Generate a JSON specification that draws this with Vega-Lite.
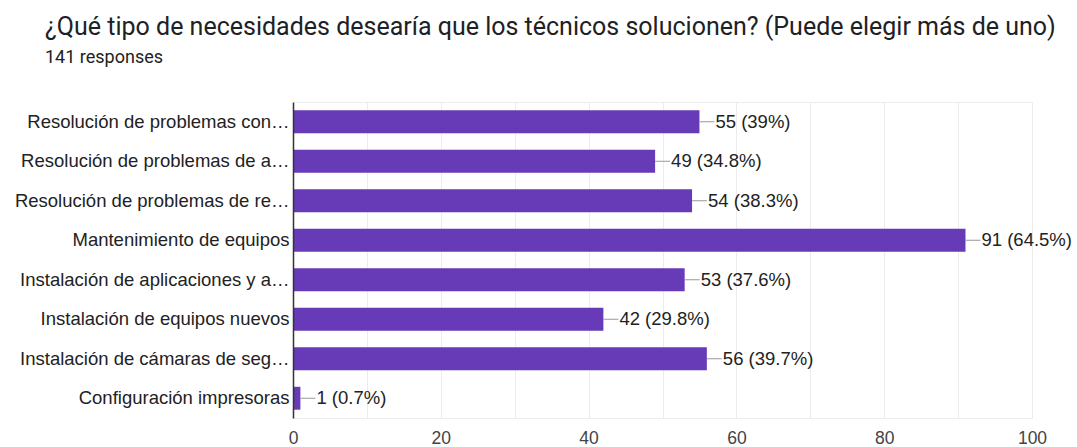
{
  "$schema": "https://vega.github.io/schema/vega-lite/v6.json",
  "width": 739,
  "height": 316,
  "autosize": {"type": "none"},
  "padding": {"left": 293, "top": 102, "right": 45, "bottom": 29},
  "background": "white",
  "title": {
    "text": "¿Qué tipo de necesidades desearía que los técnicos solucionen? (Puede elegir más de uno)",
    "subtitle": "141 responses",
    "anchor": "start",
    "frame": "group",
    "dx": -248,
    "offset": 35,
    "font": "Roboto",
    "fontSize": 25,
    "fontWeight": "normal",
    "color": "#202124",
    "subtitleFont": "Roboto",
    "subtitleFontSize": 18,
    "subtitleColor": "#202124",
    "subtitlePadding": 9
  },
  "data": {
    "values": [
      {"option": "Resolución de problemas con…", "count": 55, "label": "55 (39%)"},
      {"option": "Resolución de problemas de a…", "count": 49, "label": "49 (34.8%)"},
      {"option": "Resolución de problemas de re…", "count": 54, "label": "54 (38.3%)"},
      {"option": "Mantenimiento de equipos", "count": 91, "label": "91 (64.5%)"},
      {"option": "Instalación de aplicaciones y a…", "count": 53, "label": "53 (37.6%)"},
      {"option": "Instalación de equipos nuevos", "count": 42, "label": "42 (29.8%)"},
      {"option": "Instalación de cámaras de seg…", "count": 56, "label": "56 (39.7%)"},
      {"option": "Configuración impresoras", "count": 1, "label": "1 (0.7%)"}
    ]
  },
  "config": {
    "view": {"stroke": "#ececec", "strokeWidth": 1},
    "font": "Liberation Sans"
  },
  "encoding": {
    "y": {
      "field": "option",
      "type": "nominal",
      "sort": null,
      "scale": {"paddingInner": 0.42, "paddingOuter": 0.21},
      "axis": {
        "title": null,
        "ticks": false,
        "domain": true,
        "domainColor": "#333333",
        "domainWidth": 1.5,
        "labelFont": "Liberation Sans",
        "labelFontSize": 18.5,
        "labelColor": "#222222",
        "labelPadding": 4,
        "labelLimit": 300,
        "zindex": 1
      }
    },
    "x": {
      "field": "count",
      "type": "quantitative",
      "scale": {"domain": [0, 100], "nice": false},
      "axis": {
        "title": null,
        "values": [0, 10, 20, 30, 40, 50, 60, 70, 80, 90, 100],
        "labelExpr": "datum.value % 20 == 0 ? datum.label : ''",
        "domain": false,
        "ticks": false,
        "grid": true,
        "gridColor": "#ececec",
        "labelFont": "Liberation Sans",
        "labelFontSize": 17.5,
        "labelColor": "#444444",
        "labelPadding": 11,
        "labelFlush": false
      }
    }
  },
  "layer": [
    {"mark": {"type": "bar", "color": "#673ab7"}},
    {
      "mark": {"type": "rule", "color": "#999999", "strokeWidth": 1, "x2Offset": 15},
      "encoding": {"x2": {"field": "count"}}
    },
    {
      "mark": {"type": "text", "align": "left", "baseline": "middle", "dx": 16, "font": "Liberation Sans", "fontSize": 18.5, "color": "#222222"},
      "encoding": {"text": {"field": "label"}}
    }
  ]
}
